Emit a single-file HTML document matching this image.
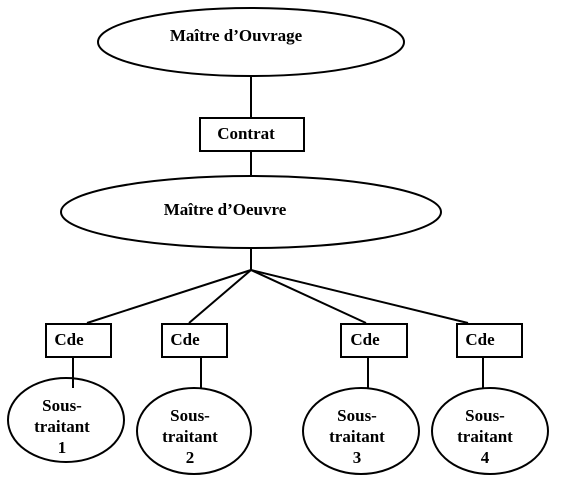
<!DOCTYPE html>
<html><head><style>
html,body{margin:0;padding:0;background:#fff;}
svg text{font-family:"Liberation Serif",serif;font-weight:bold;font-size:17px;fill:#000;}
</style></head><body>
<svg width="562" height="483" viewBox="0 0 562 483" xmlns="http://www.w3.org/2000/svg">
<g fill="none" stroke="#000" stroke-width="2">
<ellipse cx="251" cy="42" rx="153" ry="34"/>
<line x1="251" y1="76" x2="251" y2="118"/>
<rect x="200" y="118" width="104" height="33"/>
<line x1="251" y1="151" x2="251" y2="176"/>
<ellipse cx="251" cy="212" rx="190" ry="36"/>
<line x1="251" y1="248" x2="251" y2="270"/>
<line x1="251" y1="270" x2="87" y2="323"/>
<line x1="251" y1="270" x2="189" y2="323"/>
<line x1="251" y1="270" x2="366" y2="323"/>
<line x1="251" y1="270" x2="468" y2="323"/>
<rect x="46" y="324" width="65" height="33"/>
<rect x="162" y="324" width="65" height="33"/>
<rect x="341" y="324" width="66" height="33"/>
<rect x="457" y="324" width="65" height="33"/>
<line x1="73" y1="357" x2="73" y2="388"/>
<line x1="201" y1="357" x2="201" y2="388"/>
<line x1="368" y1="357" x2="368" y2="388"/>
<line x1="483" y1="357" x2="483" y2="388"/>
<ellipse cx="66" cy="420" rx="58" ry="42"/>
<ellipse cx="194" cy="431" rx="57" ry="43"/>
<ellipse cx="361" cy="431" rx="58" ry="43"/>
<ellipse cx="490" cy="431" rx="58" ry="43"/>
</g>
<text x="236" y="41" text-anchor="middle">Maître d’Ouvrage</text>
<text x="246" y="139" text-anchor="middle">Contrat</text>
<text x="225" y="215" text-anchor="middle">Maître d’Oeuvre</text>
<text x="69" y="345" text-anchor="middle">Cde</text>
<text x="185" y="345" text-anchor="middle">Cde</text>
<text x="365" y="345" text-anchor="middle">Cde</text>
<text x="480" y="345" text-anchor="middle">Cde</text>
<g text-anchor="middle">
<text x="62" y="411">Sous-</text><text x="62" y="432">traitant</text><text x="62" y="453">1</text>
<text x="190" y="421">Sous-</text><text x="190" y="442">traitant</text><text x="190" y="463">2</text>
<text x="357" y="421">Sous-</text><text x="357" y="442">traitant</text><text x="357" y="463">3</text>
<text x="485" y="421">Sous-</text><text x="485" y="442">traitant</text><text x="485" y="463">4</text>
</g>
</svg>
</body></html>
